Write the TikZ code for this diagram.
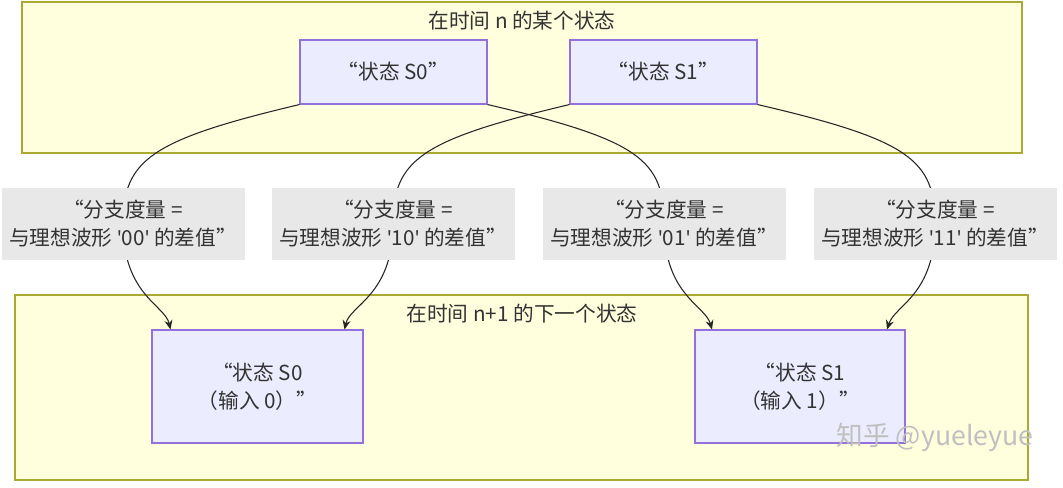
\documentclass[tikz,border=0pt]{standalone}
\usepackage{fontspec}
\setmainfont{Noto Sans CJK SC}
\newfontfamily\latf{Noto Sans}
\newcommand{\sq}{{\latf\char"0027}}
\usetikzlibrary{arrows.meta}
\definecolor{clfill}{HTML}{FFFFDE}\definecolor{clline}{HTML}{AAAA33}
\definecolor{nfill}{HTML}{ECECFF}\definecolor{nline}{HTML}{9370DB}
\definecolor{lfill}{HTML}{E8E8E8}
\begin{document}
\begin{tikzpicture}[x=0.75pt,y=-0.75pt,
  every node/.style={font=\fontsize{15.5}{21}\selectfont,text=black!80},
  cl/.style={draw=clline,fill=clfill,line width=0.8pt},
  st/.style={draw=nline,fill=nfill,line width=0.8pt,align=center,inner sep=0pt},
  lb/.style={fill=lfill,align=center,inner sep=0pt,minimum width=243*0.75pt,minimum height=72*0.75pt},
  ed/.style={draw=black!85,line width=0.8pt,-{Stealth[length=7pt,width=6pt]}}]
\useasboundingbox (0,0) rectangle (1063,487);
\fill[white] (0,0) rectangle (1063,487);
\draw[cl] (22,2) rectangle (1022,153);
\node (t1) at (522,21) {在时间 n 的某个状态};
\draw[cl] (15,295) rectangle (1028,480);
\node (t2) at (522,314) {在时间 n+1 的下一个状态};
\node[st,minimum width=187*0.75pt,minimum height=64*0.75pt] (a0) at (393.5,72) {“状态 S0”};
\node[st,minimum width=187*0.75pt,minimum height=64*0.75pt] (a1) at (663.5,72) {“状态 S1”};
\node[st,minimum width=211*0.75pt,minimum height=113*0.75pt] (b0) at (257.5,386.5) {“状态 S0\\（输入 0）”};
\node[st,minimum width=210*0.75pt,minimum height=113*0.75pt] (b1) at (800,386.5) {“状态 S1\\（输入 1）”};
\coordinate (l1) at (123,224);\coordinate (l2) at (393,224);
\coordinate (l3) at (664,224);\coordinate (l4) at (935,224);
\draw[ed] (a0.south west) .. controls (150,140) and (123,160) .. (l1) .. controls (123,295) and (165,305) .. ([xshift=-87*0.75pt]b0.north);
\draw[ed] (a1.south west) .. controls (420,140) and (393,160) .. (l2) .. controls (393,295) and (350,305) .. ([xshift=87*0.75pt]b0.north);
\draw[ed] (a0.south east) .. controls (640,140) and (664,160) .. (l3) .. controls (664,295) and (705,305) .. ([xshift=-88*0.75pt]b1.north);
\draw[ed] (a1.south east) .. controls (910,140) and (935,160) .. (l4) .. controls (935,295) and (895,305) .. ([xshift=87*0.75pt]b1.north);
\node[lb] at (l1) {“分支度量 =\\与理想波形 \sq00\sq{} 的差值”};
\node[lb] at (l2) {“分支度量 =\\与理想波形 \sq10\sq{} 的差值”};
\node[lb] at (l3) {“分支度量 =\\与理想波形 \sq01\sq{} 的差值”};
\node[lb] at (l4) {“分支度量 =\\与理想波形 \sq11\sq{} 的差值”};
\node[text=black!25,font=\fontsize{20}{24}\selectfont] (wm) at (935,437) {知乎 @yueleyue};
\end{tikzpicture}
\end{document}
